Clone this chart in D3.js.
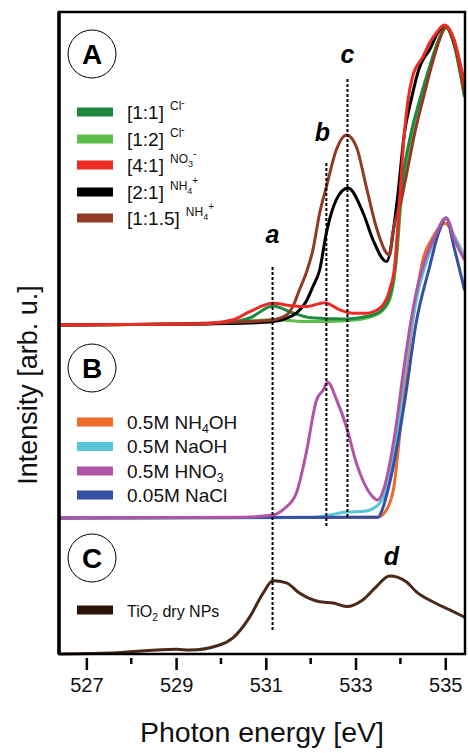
<!DOCTYPE html>
<html>
<head>
<meta charset="utf-8">
<script src="https://cdn.jsdelivr.net/npm/d3@7"></script>
<style>
  body { margin: 0; background: #fff; }
  svg { display: block; font-family: "Liberation Sans", Arial, sans-serif; }
</style>
</head>
<body>
<svg id="chart" width="468" height="753"></svg>
<script>
// ---- data (photon energy [eV], normalised intensity) ----
const xTicks = [527, 529, 531, 533, 535];
const xMinorTicks = [528, 530, 532, 534];

// panel A
const cl11 = [[526.4,0],[529.5,0.003],[530.27,0.01],[530.64,0.023],[531.16,0.063],[531.6,0.04],[532.0,0.024],[532.8,0.02],[533.24,0.028],[533.54,0.044],[533.76,0.094],[533.9,0.217],[534.0,0.417],[534.24,0.64],[534.43,0.75],[534.65,0.86],[534.85,0.95],[535.02,0.993],[535.2,0.933],[535.43,0.76]];
const cl12 = [[526.4,0],[529.5,0.003],[530.27,0.01],[531.16,0.017],[532.0,0.011],[532.8,0.014],[533.24,0.023],[533.54,0.04],[533.76,0.083],[533.9,0.2],[534.02,0.417],[534.26,0.64],[534.45,0.75],[534.67,0.86],[534.86,0.95],[535.03,0.99],[535.2,0.933],[535.43,0.76]];
const no41 = [[526.4,0],[529.5,0.003],[530.27,0.017],[530.64,0.044],[531.16,0.072],[531.6,0.063],[531.9,0.061],[532.31,0.074],[532.65,0.05],[532.94,0.039],[533.24,0.039],[533.54,0.056],[533.76,0.117],[533.87,0.193],[533.98,0.417],[534.09,0.64],[534.17,0.75],[534.27,0.827],[534.5,0.893],[534.65,0.94],[534.8,0.973],[534.98,1.0],[535.2,0.95],[535.43,0.8]];
const nh21 = [[526.4,0],[529.5,0.003],[530.64,0.006],[531.16,0.011],[531.46,0.022],[531.68,0.039],[531.9,0.078],[532.05,0.128],[532.2,0.183],[532.35,0.307],[532.57,0.417],[532.83,0.456],[533.17,0.373],[533.39,0.283],[533.69,0.211],[533.93,0.417],[534.09,0.64],[534.24,0.75],[534.43,0.86],[534.5,0.883],[534.65,0.917],[534.83,0.973],[535.0,0.997],[535.2,0.94],[535.43,0.8]];
const nh115 = [[526.4,0],[529.5,0.005],[530.64,0.011],[531.16,0.017],[531.46,0.033],[531.6,0.061],[531.75,0.117],[531.9,0.173],[532.05,0.25],[532.2,0.373],[532.35,0.46],[532.57,0.583],[532.8,0.633],[533.02,0.593],[533.24,0.46],[533.46,0.327],[533.69,0.24],[533.76,0.233],[533.83,0.307],[534.02,0.417],[534.17,0.527],[534.32,0.64],[534.5,0.75],[534.69,0.86],[534.87,0.95],[535.0,0.993],[535.2,0.94],[535.43,0.77]];

// panel B
const nh4oh = [[526.4,0],[533.5,0.003],[533.7,0.03],[533.85,0.1],[534.0,0.3],[534.1,0.45],[534.25,0.63],[534.4,0.78],[534.5,0.86],[534.7,0.93],[535.0,0.983],[535.2,0.94],[535.43,0.87]];
const naoh = [[526.4,0],[532.0,0.002],[532.3,0.007],[532.8,0.02],[533.2,0.023],[533.5,0.043],[533.7,0.1],[533.9,0.25],[534.08,0.47],[534.25,0.64],[534.4,0.76],[534.55,0.84],[534.76,0.93],[535.02,1.0],[535.2,0.94],[535.43,0.87]];
const hno3 = [[526.4,0],[530.5,0.003],[531.15,0.01],[531.4,0.03],[531.68,0.083],[531.9,0.217],[532.13,0.393],[532.28,0.427],[532.38,0.453],[532.58,0.393],[532.8,0.303],[533.02,0.183],[533.16,0.127],[533.39,0.07],[533.5,0.06],[533.62,0.093],[533.88,0.283],[534.08,0.503],[534.25,0.67],[534.4,0.783],[534.5,0.837],[534.76,0.937],[535.02,1.0],[535.2,0.93],[535.43,0.86]];
const nacl = [[526.4,0],[533.5,0.003],[533.6,0.03],[533.76,0.117],[534.1,0.393],[534.35,0.65],[534.65,0.837],[534.85,0.95],[535.02,1.0],[535.2,0.9],[535.43,0.76]];

// panel C
const tio2 = [[526.4,0],[527.67,0.004],[529.01,0.016],[529.3,0.013],[529.97,0.03],[530.26,0.053],[530.64,0.123],[530.94,0.203],[531.16,0.244],[531.46,0.237],[531.75,0.203],[532.2,0.174],[532.5,0.17],[532.8,0.158],[533.16,0.18],[533.46,0.224],[533.76,0.26],[534.13,0.241],[534.35,0.208],[534.72,0.174],[535.1,0.147],[535.43,0.123]];

// vertical offsets of the three stacked panels
const panelOffsets = { A: 1.097, B: 0.453, C: 0 };

const seriesA = [
  { name: '[1:2]', ion: 'Cl', sup: '-', data: cl12, color: '#5cbd48' },
  { name: '[1:1]', ion: 'Cl', sup: '-', data: cl11, color: '#1c8a40' },
  { name: '[2:1]', ion: 'NH', sub: '4', sup: '+', data: nh21, color: '#000000' },
  { name: '[1:1.5]', ion: 'NH', sub: '4', sup: '+', data: nh115, color: '#913a24' },
  { name: '[4:1]', ion: 'NO', sub: '3', sup: '-', data: no41, color: '#ed2b24' }
];
const legendA = ['[1:1]', '[1:2]', '[4:1]', '[2:1]', '[1:1.5]'];

const seriesB = [
  { name: '0.5M NH', sub: '4', tail: 'OH', data: nh4oh, color: '#f06b2b' },
  { name: '0.5M NaOH', data: naoh, color: '#58c6da' },
  { name: '0.05M NaCl', data: nacl, color: '#3550a3' },
  { name: '0.5M HNO', sub: '3', tail: '', data: hno3, color: '#b055a5' }
];
const legendB = ['0.5M NH', '0.5M NaOH', '0.5M HNO', '0.05M NaCl'];

const seriesC = [{ name: 'TiO', sub: '2', tail: ' dry NPs', data: tio2, color: '#4a2a16' }];

// dashed guide lines: energy, top / bottom in intensity units
const guides = [
  { e: 531.15, top: 1.29, bottom: 0.08, label: 'a', ly: 1.37 },
  { e: 532.35, top: 1.637, bottom: 0.423, label: 'b', ly: 1.71, dx: -4 },
  { e: 532.82, top: 1.917, bottom: 0.453, label: 'c', ly: 1.97 }
];
const peakD = { e: 533.8, ly: 0.297, label: 'd' };

// ---- layout ----
const svg = d3.select('#chart');
const frame = { left: 59, right: 465, top: 12, bottom: 654 };

const x = d3.scaleLinear().domain([526.39, 535.44]).range([frame.left, frame.right]);
const y = d3.scaleLinear().domain([0, 2.14]).range([frame.bottom, frame.top]);

const clipId = 'plotclip';
svg.append('defs').append('clipPath').attr('id', clipId)
  .append('rect')
  .attr('x', frame.left).attr('y', frame.top)
  .attr('width', frame.right - frame.left).attr('height', frame.bottom - frame.top + 2);

const plot = svg.append('g').attr('clip-path', `url(#${clipId})`);

function drawSeries(list, offset) {
  const line = d3.line()
    .x(d => x(d[0]))
    .y(d => y(d[1] + offset))
    .curve(d3.curveMonotoneX);
  plot.append('g')
    .selectAll('path')
    .data(list)
    .enter().append('path')
    .attr('d', d => line(d.data))
    .attr('fill', 'none')
    .attr('stroke', d => d.color)
    .attr('stroke-width', 3)
    .attr('stroke-linejoin', 'round');
}

drawSeries(seriesA, panelOffsets.A);
drawSeries(seriesB, panelOffsets.B);
drawSeries(seriesC, panelOffsets.C);

// dashed guide lines
svg.append('g')
  .selectAll('line')
  .data(guides)
  .enter().append('line')
  .attr('x1', d => x(d.e)).attr('x2', d => x(d.e))
  .attr('y1', d => y(d.top)).attr('y2', d => y(d.bottom))
  .attr('stroke', '#000')
  .attr('stroke-width', 2)
  .attr('stroke-dasharray', '3,2');

svg.append('g')
  .selectAll('text')
  .data(guides.concat([peakD]))
  .enter().append('text')
  .attr('x', d => x(d.e) + (d.dx || 0))
  .attr('y', d => y(d.ly))
  .attr('text-anchor', 'middle')
  .attr('font-size', 25)
  .attr('font-weight', 'bold')
  .attr('font-style', 'italic')
  .text(d => d.label);

// frame
svg.append('rect')
  .attr('x', frame.left).attr('y', frame.top)
  .attr('width', frame.right - frame.left)
  .attr('height', frame.bottom - frame.top)
  .attr('fill', 'none')
  .attr('stroke', '#000')
  .attr('stroke-width', 2.5);
svg.append('line')
  .attr('x1', frame.left).attr('x2', frame.left)
  .attr('y1', frame.top).attr('y2', frame.bottom)
  .attr('stroke', '#000').attr('stroke-width', 3.5);

// x axis ticks
const axisG = svg.append('g').attr('transform', `translate(0,${frame.bottom + 4})`);
axisG.call(d3.axisBottom(x).tickValues(xTicks).tickSize(12).tickPadding(8).tickFormat(d3.format('d')));
axisG.select('.domain').remove();
axisG.selectAll('.tick line').attr('stroke-width', 2.5);
axisG.selectAll('.tick text')
  .attr('font-size', 20)
  .attr('font-family', '"Liberation Sans", Arial, sans-serif')
  .attr('fill', '#111');
axisG.selectAll('.minor')
  .data(xMinorTicks)
  .enter().append('line')
  .attr('x1', d => x(d)).attr('x2', d => x(d))
  .attr('y1', 0).attr('y2', 6)
  .attr('stroke', '#000').attr('stroke-width', 2.5);

// axis titles
svg.append('text')
  .attr('x', (frame.left + frame.right) / 2)
  .attr('y', 742)
  .attr('text-anchor', 'middle')
  .attr('font-size', 28.5)
  .attr('fill', '#111')
  .text('Photon energy [eV]');

svg.append('text')
  .attr('transform', `translate(37,${385}) rotate(-90)`)
  .attr('text-anchor', 'middle')
  .attr('font-size', 27)
  .attr('fill', '#111')
  .text('Intensity [arb. u.]');

// panel badges
const badges = [
  { label: 'A', cy: 54 },
  { label: 'B', cy: 368 },
  { label: 'C', cy: 558 }
];
const badgeG = svg.append('g')
  .selectAll('g')
  .data(badges)
  .enter().append('g')
  .attr('transform', d => `translate(92,${d.cy})`);
badgeG.append('circle')
  .attr('r', 24)
  .attr('fill', '#fff')
  .attr('stroke', '#000')
  .attr('stroke-width', 1);
badgeG.append('text')
  .attr('y', 10)
  .attr('text-anchor', 'middle')
  .attr('font-size', 28)
  .attr('font-weight', 'bold')
  .text(d => d.label);

// legends
function legendRow(g, s, fontSize) {
  g.append('rect')
    .attr('x', 77).attr('y', -4.5)
    .attr('width', 36).attr('height', 9)
    .attr('fill', s.color);
  const t = g.append('text')
    .attr('x', 127).attr('y', 6.5)
    .attr('font-size', fontSize)
    .attr('fill', '#111');
  t.append('tspan').text(s.name);
  if (s.ion) {
    t.append('tspan').attr('dx', 6).attr('dy', -9).attr('font-size', 12).text(s.ion);
    if (s.sub) {
      t.append('tspan').attr('dy', 4).attr('font-size', 9).text(s.sub);
      t.append('tspan').attr('dy', -10).attr('font-size', 10).text(s.sup);
    } else {
      t.append('tspan').attr('dy', -4).attr('font-size', 10).text(s.sup);
    }
  } else if (s.sub) {
    t.append('tspan').attr('dy', 4).attr('font-size', fontSize * 0.65).text(s.sub);
    t.append('tspan').attr('dy', -4).text(s.tail);
  }
}

const legendAY = [112, 139, 165, 192, 218];
legendA.forEach((name, i) => {
  const s = seriesA.find(d => d.name === name);
  legendRow(svg.append('g').attr('transform', `translate(0,${legendAY[i]})`), s, 19);
});

const legendBY = [422, 446.5, 471, 495];
legendB.forEach((name, i) => {
  const s = seriesB.find(d => d.name === name);
  legendRow(svg.append('g').attr('transform', `translate(0,${legendBY[i]})`), s, 19);
});

const legC = svg.append('g').attr('transform', 'translate(0,610)');
legendRow(legC, Object.assign({}, seriesC[0], { color: '#2a1208' }), 16);
</script>
</body>
</html>
